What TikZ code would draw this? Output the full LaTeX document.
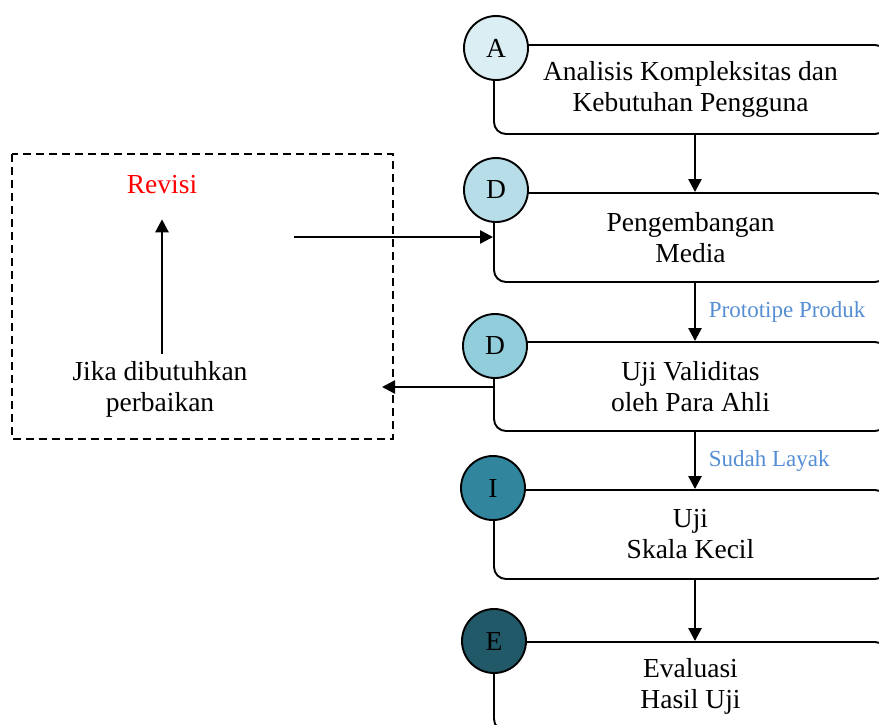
\documentclass[tikz,border=0pt]{standalone}
\usepackage{fontspec}
\setmainfont{Liberation Serif}
\usetikzlibrary{arrows.meta}
\definecolor{tintA}{HTML}{DAEEF3}
\definecolor{tintB}{HTML}{B7DEE8}
\definecolor{tintC}{HTML}{92CDDC}
\definecolor{tintD}{HTML}{31859C}
\definecolor{tintE}{HTML}{215968}
\definecolor{noteblue}{HTML}{558ED5}
\begin{document}
\begin{tikzpicture}[x=0.5pt,y=-0.5pt,
    stage/.style={draw,line width=0.95pt,rounded corners=6pt,minimum width=196.5pt,
      minimum height=44.5pt,align=center,font=\fontsize{13.75}{15.5}\selectfont},
    badge/.style={draw,circle,line width=0.95pt,minimum size=32pt,inner sep=0pt,
      font=\fontsize{13.75}{15.5}\selectfont},
    arr/.style={line width=1.25pt,-{Triangle[length=6.5pt,width=6.5pt]}},
    note/.style={font=\fontsize{11.5}{13}\selectfont,text=noteblue}]
  \useasboundingbox (0,0) rectangle (879,724);
  \clip (0,0) rectangle (879,724);
  % stages
  \node[stage] (analisis) at (690.5,89.5) {Analisis Kompleksitas dan\\Kebutuhan Pengguna};
  \node[stage] (media) at (690.5,237.5) {Pengembangan\\Media};
  \node[stage] (validasi) at (690.5,386.5) {Uji Validitas\\oleh Para Ahli};
  \node[stage] (skala) at (690.5,534.5) {Uji\\Skala Kecil};
  \node[stage] (evaluasi) at (690.5,686.5) {Evaluasi\\Hasil Uji};
  \node[badge,fill=tintA] (a) at (496,48) {A};
  \node[badge,fill=tintB] (d1) at (496,190) {D};
  \node[badge,fill=tintC] (d2) at (495,346) {D};
  \node[badge,fill=tintD] (i) at (493,488) {I};
  \node[badge,fill=tintE] (e) at (494,641) {E};
  % flow
  \coordinate (spine) at (695,0);
  \draw[arr] (analisis.south -| spine) -- (media.north -| spine);
  \draw[arr] (media.south -| spine) -- node[note,right,xshift=3pt] {Prototipe Produk} (validasi.north -| spine);
  \draw[arr] (validasi.south -| spine) -- node[note,right,xshift=3pt] {Sudah Layak} (skala.north -| spine);
  \draw[arr] (skala.south -| spine) -- (evaluasi.north -| spine);
  % revision loop
  \draw[line width=0.7pt,dash pattern=on 4pt off 2.5pt] (12,154) rectangle (393,439);
  \node[text=red,font=\fontsize{13.75}{15.5}\selectfont] (revisi) at (162,185) {Revisi};
  \node[align=center,font=\fontsize{13.75}{15.5}\selectfont] (jika) at (160,389) {Jika dibutuhkan\\perbaikan};
  \draw[arr,shorten >=9pt] (jika.north -| revisi) -- (revisi);
  \coordinate (back) at (294,237);
  \coordinate (fix) at (382,387);
  \draw[arr] (back) -- (back -| media.west);
  \draw[arr] (validasi.west |- fix) -- (fix);
\end{tikzpicture}
\end{document}
